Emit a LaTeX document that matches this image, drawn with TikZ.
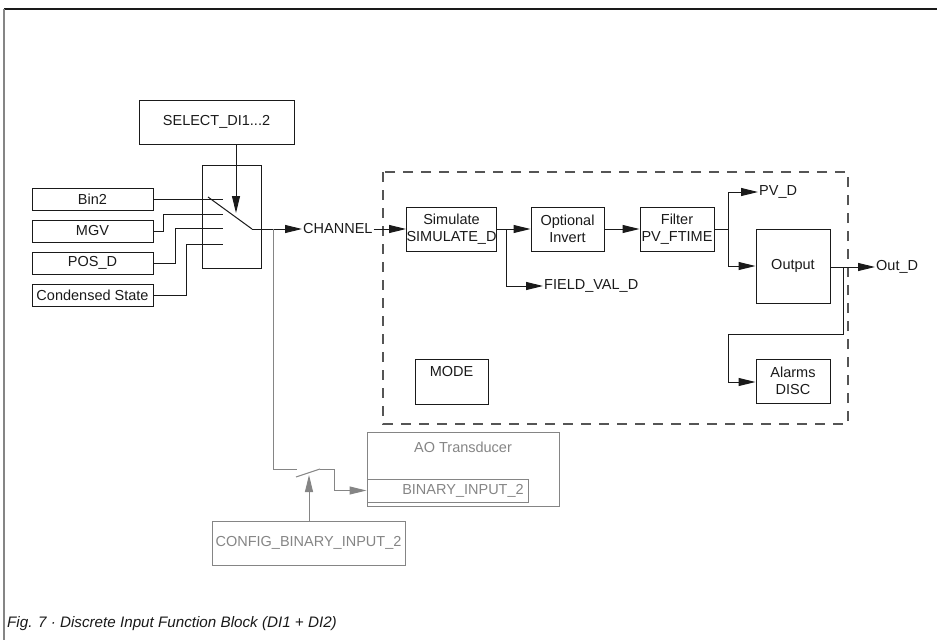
\documentclass[tikz,border=0pt]{standalone}
\usepackage{fontspec}
\setmainfont{Liberation Sans}
\usetikzlibrary{arrows.meta}
\definecolor{ink}{HTML}{1A1A1A}
\definecolor{grayln}{HTML}{858585}
\definecolor{dashc}{HTML}{555555}
\tikzset{
  box/.style={draw=ink,line width=1pt,inner sep=0pt,font=\fontsize{14.5}{17}\selectfont,align=center,text=ink},
  gbox/.style={draw=grayln,line width=1pt,inner sep=0pt,font=\fontsize{14.5}{17}\selectfont,align=center,text=grayln},
  lbl/.style={inner sep=1pt,font=\fontsize{14.5}{17}\selectfont,text=ink},
  ln/.style={draw=ink,line width=1pt},
  gln/.style={draw=grayln,line width=1pt},
  arr/.style={ln,-{Triangle[length=17pt,width=8pt]}},
  garr/.style={gln,-{Triangle[length=17pt,width=8pt]}},
}
\begin{document}
\begin{tikzpicture}[x=1pt,y=-1pt]
\useasboundingbox (0,0) rectangle (937,640);
% frame
\draw[ink,line width=1.2pt] (4,9) -- (937,9);
\draw[grayln,line width=1.5pt] (4,9) -- (4,640);
% boxes
\node[box,minimum width=155pt,minimum height=44pt] (sel) at (216.5,122) {SELECT\_DI1...2};
\node[box,minimum width=59pt,minimum height=103pt] (sw) at (231.5,216.5) {};
\node[box,minimum width=121pt,minimum height=22pt] (bin2) at (92.5,199) {Bin2};
\node[box,minimum width=121pt,minimum height=22pt] (mgv) at (92.5,231) {MGV};
\node[box,minimum width=121pt,minimum height=22pt] (pos) at (92.5,263) {POS\_D};
\node[box,minimum width=121pt,minimum height=22pt] (cond) at (92.5,295) {Condensed State};
% dashed function block
\draw[dashc,line width=1.3pt,dash pattern=on 10pt off 8pt] (383,172) rectangle (848,424);
\node[box,minimum width=89pt,minimum height=44pt] (sim) at (451.5,229) {Simulate\\SIMULATE\_D};
\node[box,minimum width=73pt,minimum height=44pt] (inv) at (567.5,229) {Optional\\Invert};
\node[box,minimum width=74pt,minimum height=44pt] (fil) at (677,229) {Filter\\PV\_FTIME};
\node[box,minimum width=74pt,minimum height=74pt] (out) at (793,266) {Output};
\node[box,minimum width=74pt,minimum height=44pt] (alarm) at (793,381) {Alarms\\DISC};
\node[box,minimum width=73pt,minimum height=45pt] (mode) at (451.5,381.5) {};
\node[lbl,anchor=north] (modet) at (mode.north) [yshift=-7pt] {MODE};
% labels
\node[lbl,anchor=west] (chan) at (302,229) {CHANNEL};
\node[lbl,anchor=west] (fv) at (543,286) {FIELD\_VAL\_D};
\node[lbl,anchor=west] (pvd) at (758,192) {PV\_D};
\node[lbl,anchor=west] (outd) at (875,267) {Out\_D};
% gray part
\node[gbox,minimum width=192pt,minimum height=74pt] (ao) at (463,469) {};
\node[text=grayln,inner sep=0pt,font=\fontsize{14.5}{17}\selectfont] (aot) at (463,447) {AO Transducer};
\node[gbox,minimum width=161pt,minimum height=23pt] (bin) at (447.5,490.5) {};
\node[text=grayln,inner sep=0pt,font=\fontsize{14.5}{17}\selectfont] (bint) at (463,490.5) {BINARY\_INPUT\_2};
\node[gbox,minimum width=193pt,minimum height=44pt] (cfg) at (308.5,543) {CONFIG\_BINARY\_INPUT\_2};
% switch coordinates
\coordinate (c1) at (223,199);
\coordinate (c2) at (223,214);
\coordinate (c3) at (223,228);
\coordinate (c4) at (223,244);
\coordinate (bl) at (208,197);
\coordinate (pivot) at (252,229);
\coordinate (swtip) at (236,213);
% connectors to switch
\draw[ln] (bin2.east) -- (c1);
\draw[ln] (mgv.east) -- ++(10,0) |- (c2);
\draw[ln] (pos.east) -- ++(22,0) |- (c3);
\draw[ln] (cond.east) -- ++(33,0) |- (c4);
\draw[ln] (bl) -- (pivot);
\draw[arr] (sel.south -| swtip) -- (swtip);
\draw[arr] (pivot) -- (chan.west);
\draw[arr] (chan.east) -- (sim.west);
% chain
\draw[arr] (sim.east) -- (inv.west);
\coordinate (b1) at (506,229);
\draw[arr] (b1) |- (fv.west);
\draw[arr] (inv.east) -- (fil.west);
\coordinate (b2) at (728,229);
\draw[ln] (fil.east) -- (b2);
\draw[arr] (b2) |- (pvd.west);
\draw[arr] (b2) |- (out.west);
\draw[arr] (out.east |- outd.west) -- (outd.west);
\coordinate (b3) at (843,267);
\draw[arr] (b3) -- (843,334) -| (728,382) -- (alarm.west |- 728,382);
% gray switch
\coordinate (g0) at (273,229);
\coordinate (g1) at (297,469);
\coordinate (gb0) at (296,477);
\coordinate (gb1) at (320,469);
\coordinate (gtip) at (309,475);
\draw[gln] (g0) -- (273,469) -- (g1);
\draw[gln] (gb0) -- (gb1);
\draw[garr] (gb1) -- (334,469) |- (bin.west);
\draw[garr] (cfg.north -| gtip) -- (gtip);
% caption
\node[anchor=base west,inner sep=0pt,font=\fontsize{15.2}{18}\selectfont\itshape,text=ink] (cap) at (7,627) {Fig. 7 · Discrete Input Function Block (DI1 + DI2)};
\end{tikzpicture}
\end{document}
